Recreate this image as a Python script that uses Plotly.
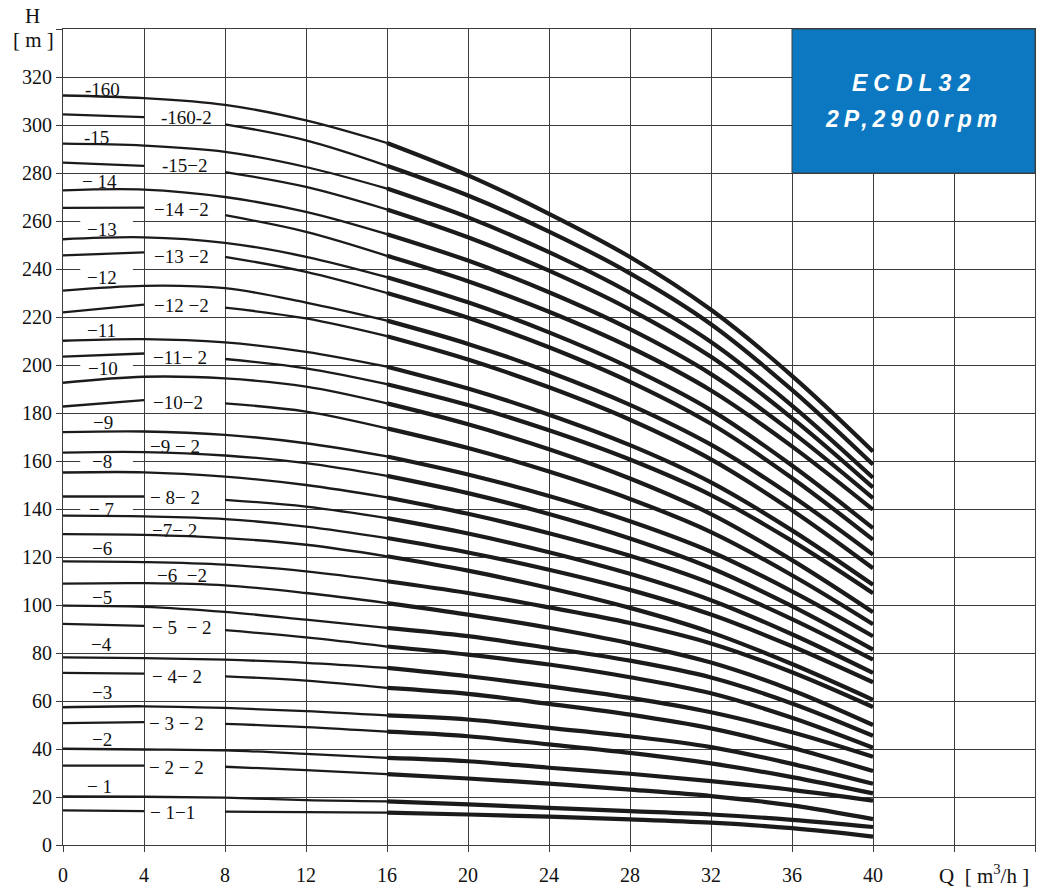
import plotly.graph_objects as go

# ---------------- data ----------------
Q = [0, 4, 8, 12, 16, 20, 24, 28, 32, 36, 40]

H_16 = [312.3, 311.2, 308.4, 301.9, 292.5, 279.0, 263.0, 245.0, 223.0, 195.5, 164.0]
H_16_2 = [304.4, 303.3, 300.3, 293.6, 283.0, 270.6, 255.6, 238.2, 217.0, 189.6, 158.5]
H_15 = [292.2, 291.4, 288.8, 282.5, 273.5, 261.5, 247.0, 230.1, 209.6, 183.1, 153.0]
H_15_2 = [284.3, 283.0, 280.4, 274.2, 264.8, 253.2, 239.3, 223.1, 203.4, 177.9, 149.0]
H_14 = [272.8, 273.1, 270.0, 263.8, 254.5, 243.5, 230.3, 214.9, 196.2, 172.0, 144.5]
H_14_2 = [265.5, 265.6, 262.4, 255.5, 245.5, 234.9, 222.2, 207.4, 189.4, 166.1, 139.7]
H_13 = [252.4, 253.2, 250.9, 245.1, 236.6, 226.1, 213.6, 198.9, 181.2, 158.1, 132.0]
H_13_2 = [245.7, 246.9, 245.1, 238.8, 230.0, 219.7, 207.4, 193.0, 175.5, 152.9, 127.2]
H_12 = [231.0, 233.0, 232.0, 226.0, 218.5, 208.8, 197.1, 183.4, 166.8, 145.4, 121.0]
H_12_2 = [221.9, 225.2, 223.9, 219.4, 212.0, 202.3, 190.7, 177.2, 160.7, 139.5, 115.3]
H_11 = [210.1, 210.8, 209.4, 205.5, 199.3, 190.2, 179.3, 166.6, 151.1, 131.1, 108.4]
H_11_2 = [203.5, 204.8, 202.5, 198.6, 192.0, 183.3, 172.8, 160.6, 145.8, 126.7, 104.9]
H_10 = [192.6, 195.1, 194.4, 191.0, 184.0, 175.3, 164.9, 152.7, 137.9, 118.7, 97.0]
H_10_2 = [182.7, 185.4, 184.0, 180.6, 173.6, 165.4, 155.6, 144.2, 130.4, 112.4, 92.0]
H_9 = [172.0, 172.3, 170.9, 167.4, 161.9, 154.4, 145.4, 134.9, 122.2, 105.7, 87.0]
H_9_2 = [163.5, 163.7, 162.3, 159.1, 153.8, 146.6, 137.9, 127.7, 115.4, 99.5, 81.4]
H_8 = [155.2, 155.3, 153.5, 150.0, 144.8, 138.0, 129.9, 120.5, 109.0, 94.1, 77.2]
H_8_2 = [145.2, 145.2, 143.8, 141.0, 136.2, 129.8, 122.0, 113.0, 102.0, 87.8, 71.7]
H_7 = [137.2, 136.9, 135.8, 132.7, 127.9, 121.9, 114.7, 106.3, 96.0, 82.8, 67.8]
H_7_2 = [129.5, 129.2, 127.9, 125.1, 120.3, 114.3, 107.1, 98.8, 88.6, 75.4, 60.5]
H_6 = [118.2, 117.9, 116.8, 114.0, 109.9, 105.0, 99.0, 92.5, 84.0, 72.0, 57.5]
H_6_2 = [108.9, 109.1, 108.2, 105.0, 100.8, 96.0, 90.5, 84.0, 76.0, 64.5, 50.0]
H_5 = [99.7, 99.2, 97.1, 93.9, 90.5, 87.0, 82.1, 76.8, 69.8, 59.0, 45.5]
H_5_2 = [92.1, 91.3, 89.5, 86.5, 82.7, 79.3, 75.2, 69.9, 63.2, 53.0, 40.5]
H_4 = [78.2, 77.9, 77.2, 75.9, 73.8, 70.3, 66.1, 61.3, 55.3, 47.0, 36.8]
H_4_2 = [71.7, 71.4, 70.3, 68.5, 65.5, 63.0, 58.8, 54.3, 48.6, 40.5, 30.8]
H_3 = [57.4, 57.8, 57.1, 55.8, 54.0, 52.3, 48.8, 45.3, 40.8, 33.8, 25.5]
H_3_2 = [50.8, 51.2, 50.5, 49.1, 47.2, 45.3, 41.9, 38.4, 34.0, 28.3, 21.5]
H_2 = [40.1, 39.8, 39.4, 38.0, 36.3, 34.9, 32.2, 29.7, 26.6, 23.0, 18.5]
H_2_2 = [33.1, 33.1, 32.6, 31.2, 29.5, 27.7, 25.6, 23.1, 20.4, 16.5, 10.8]
H_1 = [20.2, 20.1, 19.7, 18.7, 18.2, 16.9, 15.5, 14.1, 12.7, 10.5, 7.5]
H_1_1 = [14.4, 14.1, 13.9, 13.7, 13.5, 12.7, 11.8, 10.7, 9.3, 7.0, 3.5]

# curve labels: text, label x, label y
LABEL_TEXT = ["-160", "-160-2", "-15", "-15\u22122", "\u2212 14", "\u221214 \u22122",
              "\u221213", "\u221213 \u22122", "\u221212", "\u221212 \u22122", "\u221211",
              "\u221211\u2212 2", "\u221210", "\u221210\u22122", "\u22129", "\u22129 \u2212 2",
              "\u22128", "\u2212 8\u2212 2", "\u2212 7", "\u22127\u2212 2", "\u22126",
              "\u22126 \u00a0\u22122", "\u22125", "\u2212 5 \u00a0\u2212 2", "\u22124",
              "\u2212 4\u2212 2", "\u22123", "\u2212 3 \u2212 2", "\u22122", "\u2212 2 \u2212 2",
              "\u2212 1", "\u2212 1\u22121"]
LABEL_X = [1.97, 6.10, 1.67, 6.0, 1.8, 5.86, 1.92, 5.86, 1.92, 5.86, 1.92, 5.76, 1.97, 5.66,
           1.97, 5.51, 1.92, 5.51, 1.92, 5.51, 1.92, 5.86, 1.92, 5.86, 1.92, 5.61, 1.92, 5.61,
           1.92, 5.61, 1.82, 5.41]
LABEL_Y = [314.8, 303.1, 294.9, 283.2, 276.5, 264.9, 256.6, 245.3, 236.6, 224.9, 214.3, 203.2,
           198.4, 184.5, 176.2, 166.1, 159.6, 145.0, 139.9, 131.2, 123.6, 112.5, 103.1, 90.6,
           83.4, 70.2, 63.6, 50.8, 43.9, 32.1, 24.5, 13.4]
CURVES = [H_16, H_16_2, H_15, H_15_2, H_14, H_14_2, H_13, H_13_2, H_12, H_12_2, H_11, H_11_2,
          H_10, H_10_2, H_9, H_9_2, H_8, H_8_2, H_7, H_7_2, H_6, H_6_2, H_5, H_5_2, H_4, H_4_2,
          H_3, H_3_2, H_2, H_2_2, H_1, H_1_1]
BROKEN = [False, True, False, True, False, True, False, True, False, True, False, True,
          False, True, False, False, False, True, False, False, False, False, False, True,
          False, True, False, True, False, True, False, True]

X_TICKS = [0, 4, 8, 12, 16, 20, 24, 28, 32, 36, 40, 44, 48]
X_TICKTEXT = ["0", "4", "8", "12", "16", "20", "24", "28", "32", "36", "40", " ", " "]
Y_TICKS = list(range(0, 341, 20))
Y_TICKTEXT = [str(v) if v < 340 else " " for v in Y_TICKS]

BREAK_Y = [260, 240, 200, 160, 140]   # grid lines interrupted behind labels

LINE_COLOR = "#1c1a1a"
GRID_COLOR = "#3c3c3c"
SERIF = "Times New Roman, Liberation Serif, serif"
SANS = "Arial, Liberation Sans, sans-serif"

fig = go.Figure()

for vals, broken in zip(CURVES, BROKEN):
    thin_parts = []
    if broken:
        thin_parts.append((Q[0:2], vals[0:2]))
        thin_parts.append((Q[2:5], vals[2:5]))
    else:
        thin_parts.append((Q[0:5], vals[0:5]))
    for qx, hy in thin_parts:
        fig.add_trace(go.Scatter(x=qx, y=hy, mode="lines",
                                 line=dict(color=LINE_COLOR, width=2.3, shape="spline"),
                                 hoverinfo="skip", showlegend=False))
    fig.add_trace(go.Scatter(x=Q[4:], y=vals[4:], mode="lines",
                             line=dict(color=LINE_COLOR, width=4.2, shape="spline"),
                             hoverinfo="skip", showlegend=False))

shapes = []
for by in BREAK_Y:
    shapes.append(dict(type="rect", xref="x", yref="y", x0=0.85, x1=3.45,
                       y0=by - 1.0, y1=by + 1.0, fillcolor="white",
                       line=dict(width=0), layer="between"))
shapes.append(dict(type="rect", xref="x", yref="y", x0=36, x1=48, y0=280, y1=340,
                   fillcolor="#0b78c1", line=dict(color="#3c3c3c", width=1), layer="above"))

annotations = []
for t, lx, ly in zip(LABEL_TEXT, LABEL_X, LABEL_Y):
    annotations.append(dict(x=lx, y=ly, xref="x", yref="y", text=t, showarrow=False,
                            xanchor="center", yanchor="middle",
                            font=dict(family=SERIF, size=19, color="#111")))

annotations += [
    dict(x=42.0, y=317.7, xref="x", yref="y",
         text='<span style="letter-spacing:6px"><b><i>ECDL32</i></b></span>',
         showarrow=False, xanchor="center", yanchor="middle",
         font=dict(family=SANS, size=23, color="white")),
    dict(x=42.0, y=302.7, xref="x", yref="y",
         text='<span style="letter-spacing:5px"><b><i>2P,2900rpm</i></b></span>',
         showarrow=False, xanchor="center", yanchor="middle",
         font=dict(family=SANS, size=23, color="white")),
    dict(x=-0.0318, y=1.0163, xref="paper", yref="paper", text="H", showarrow=False,
         xanchor="center", yanchor="middle", font=dict(family=SERIF, size=21, color="#111")),
    dict(x=-0.0308, y=0.9869, xref="paper", yref="paper", text="[ m ]", showarrow=False,
         xanchor="center", yanchor="middle", font=dict(family=SERIF, size=21, color="#111")),
    dict(x=0.948, y=-0.0362, xref="paper", yref="paper",
         text="Q \u00a0[ m<sup>3</sup>/h ]", showarrow=False,
         xanchor="center", yanchor="middle", font=dict(family=SERIF, size=21, color="#111")),
]

fig.update_layout(
    width=1042, height=890,
    margin=dict(l=63, r=4, t=29, b=43, pad=0),
    paper_bgcolor="white", plot_bgcolor="white",
    showlegend=False,
    shapes=shapes, annotations=annotations,
    xaxis=dict(range=[0, 48], tickmode="array", tickvals=X_TICKS, ticktext=X_TICKTEXT,
               showgrid=True, gridcolor=GRID_COLOR, gridwidth=1.2,
               showline=True, linecolor=GRID_COLOR, linewidth=1.2, mirror=True,
               ticks="outside", ticklen=6, tickcolor=GRID_COLOR, tickwidth=1.2,
               ticklabelstandoff=6,
               zeroline=False, tickfont=dict(family=SERIF, size=20, color="#111")),
    yaxis=dict(range=[0, 340], tickmode="array", tickvals=Y_TICKS, ticktext=Y_TICKTEXT,
               showgrid=True, gridcolor=GRID_COLOR, gridwidth=1.2,
               showline=True, linecolor=GRID_COLOR, linewidth=1.2, mirror=True,
               ticks="outside", ticklen=6, tickcolor=GRID_COLOR, tickwidth=1.2,
               zeroline=False, tickfont=dict(family=SERIF, size=20, color="#111")),
)

fig.write_html("out.html", config={"displayModeBar": False},
               post_script="document.body.style.margin='0';")
